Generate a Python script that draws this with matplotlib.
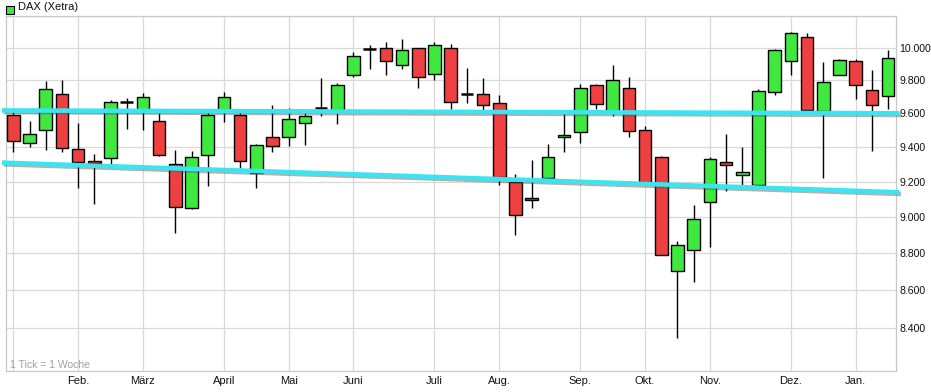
import matplotlib
matplotlib.use("Agg")
import matplotlib.pyplot as plt
import matplotlib.patheffects as pe
from matplotlib.patches import Rectangle
from matplotlib.ticker import FixedLocator, NullLocator, FuncFormatter

plt.rcParams['font.family'] = ['Liberation Sans', 'DejaVu Sans']

# ---- data (weekly candles, DAX Xetra) ----
opens = [9590, 9424, 9500, 9715, 9388, 9319, 9336, 9665, 9614, 9553,
         9305, 9050, 9354, 9614, 9588, 9250, 9459, 9459, 9542, 9630,
         9621, 9830, 9990, 9995, 9892, 9995, 9836, 9995, 9717, 9715,
         9662, 9200, 9109, 9221, 9461, 9490, 9770, 9614, 9751, 9500,
         9342, 8703, 8817, 9084, 9311, 9238, 9180, 9726, 9916, 10065,
         9614, 9830, 9916, 9741, 9703]
highs = [9608, 9555, 9797, 9801, 9543, 9361, 9681, 9693, 9723, 9602,
         9384, 9380, 9608, 9730, 9620, 9419, 9649, 9631, 9621, 9811,
         9785, 9972, 10017, 10036, 10052, 9998, 10036, 10025, 9874, 9813,
         9711, 9245, 9327, 9420, 9600, 9777, 9777, 9893, 9818, 9523,
         9349, 8870, 9067, 9345, 9475, 9403, 9745, 9994, 10097, 10092,
         9908, 9929, 9929, 9862, 9986]
lows = [9369, 9398, 9383, 9374, 9167, 9073, 9302, 9506, 9499, 9346,
        8914, 9046, 9177, 9548, 9280, 9167, 9370, 9408, 9410, 9581,
        9537, 9820, 9865, 9828, 9866, 9749, 9801, 9626, 9661, 9621,
        9182, 8901, 9050, 9221, 9369, 9427, 9626, 9586, 9459, 9199,
        8789, 8351, 8642, 8837, 9150, 9180, 9180, 9712, 9834, 9595,
        9221, 9830, 9688, 9380, 9626]
closes = [9437, 9478, 9745, 9394, 9311, 9309, 9667, 9665, 9697, 9354,
          9056, 9342, 9592, 9697, 9319, 9411, 9404, 9563, 9583, 9630,
          9769, 9947, 9990, 9916, 9988, 9818, 10015, 9667, 9717, 9647,
          9228, 9011, 9096, 9342, 9471, 9751, 9654, 9800, 9496, 9199,
          8790, 8848, 8988, 9330, 9299, 9254, 9735, 9984, 10090, 9620,
          9787, 9923, 9769, 9651, 9935]

month_pos = [0, 4, 8, 13, 17, 21, 26, 30, 35, 39, 43, 48, 52]
month_labels = ['', 'Feb.', 'März', 'April', 'Mai', 'Juni', 'Juli', 'Aug.',
                'Sep.', 'Okt.', 'Nov.', 'Dez.', 'Jan.']
y_ticks = [8400, 8600, 8800, 9000, 9200, 9400, 9600, 9800, 10000, 10200]

trend_x = [-0.7, 54.7]
trend_upper = [9617, 9600]
trend_lower = [9310, 9140]

# ---- figure ----
W, H = 931, 392
fig = plt.figure(figsize=(W / 100, H / 100), dpi=100)
fig.patch.set_facecolor('white')
left, right, top, bottom = 5.7, 896, 15.7, 370.7
ax = fig.add_axes([left / W, 1 - bottom / H, (right - left) / W, (bottom - top) / H])
ax.set_yscale('log')
ax.set_xlim(-0.47, 54.49)
ax.set_ylim(8181, 10200)

green = '#3fe83f'
red = '#ee4040'
width = 0.77
xs = list(range(len(opens)))
for i in xs:
    o, h, l, c = opens[i], highs[i], lows[i], closes[i]
    ax.vlines(i, l, h, color='black', lw=1.0, zorder=2)
    if o == c:
        ax.hlines(o, i - width / 2, i + width / 2, color='black', lw=1.8, zorder=3)
    else:
        col = green if c > o else red
        ax.bar(i, abs(c - o), bottom=min(o, c), width=width, color=col,
               edgecolor='black', linewidth=1.0, zorder=3)

shadow = [pe.SimpleLineShadow(offset=(1.2, -1.2), shadow_color='#555555', alpha=0.45),
          pe.Normal()]
for ty in (trend_upper, trend_lower):
    ax.plot(trend_x, ty, color='#3ce4f0', lw=3.3, solid_capstyle='butt',
            zorder=5, clip_on=False, path_effects=shadow)

# grid & axes
ax.set_axisbelow(True)
ax.yaxis.set_major_locator(FixedLocator(y_ticks))
ax.yaxis.set_minor_locator(NullLocator())
ax.yaxis.set_major_formatter(FuncFormatter(
    lambda v, p: '' if v > 10100 else f"{int(round(v)):,}".replace(',', '.')))
ax.yaxis.tick_right()
ax.set_xticks(month_pos)
ax.set_xticklabels(month_labels)
ax.tick_params(axis='both', length=0, colors='#111111')
ax.tick_params(axis='y', pad=2.2, labelsize=7.6)
ax.tick_params(axis='x', pad=3.5, labelsize=8)
ax.grid(True, color='#d9d9d9', lw=0.9)
for s in ax.spines.values():
    s.set_color('#c8c8c8')
    s.set_linewidth(0.9)

# legend and note
fig.patches.append(Rectangle((6 / W, 1 - 14 / H), 8 / W, 8 / H, transform=fig.transFigure,
                             facecolor=green, edgecolor='black', lw=0.8))
fig.text(18.5 / W, 1 - 6.5 / H, 'DAX (Xetra)', fontsize=8, va='center', ha='left',
         color='#111111')
fig.text(10.5 / W, 1 - 365 / H, '1 Tick = 1 Woche', fontsize=7.5, va='center', ha='left',
         color='#a0a0a0')

fig.savefig('out.png', dpi=100, facecolor='white')
